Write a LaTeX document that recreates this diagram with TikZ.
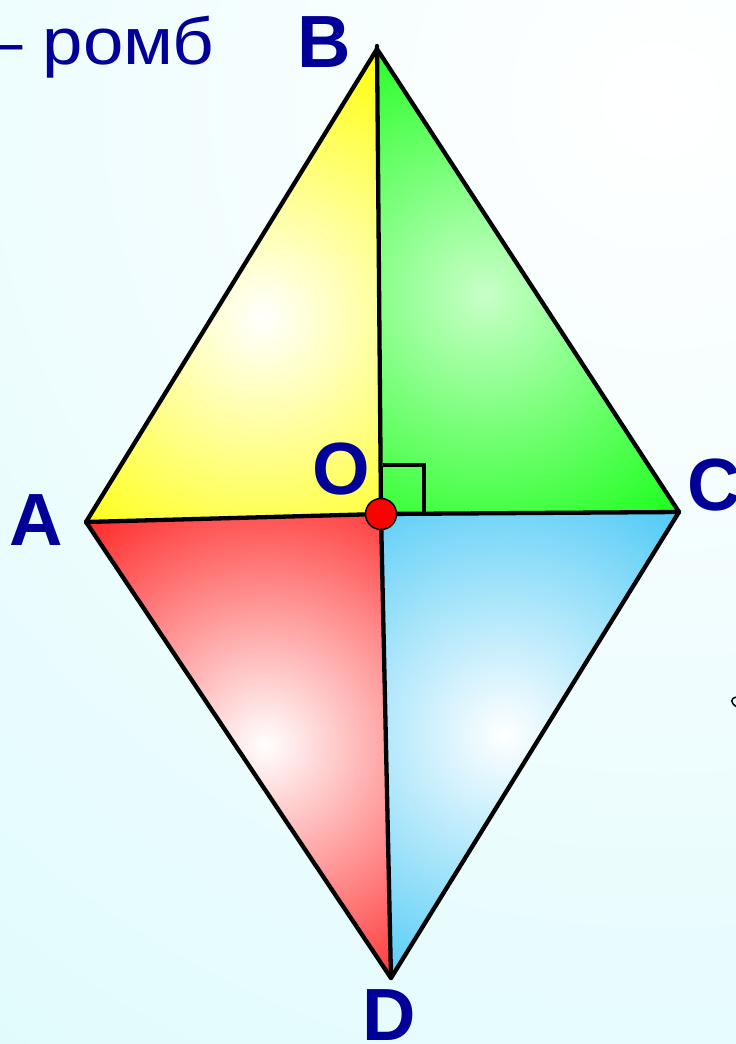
\documentclass[tikz,border=0pt]{standalone}
\usepackage{fontspec}
\setmainfont{Liberation Sans}
\definecolor{textblue}{HTML}{000099}
\definecolor{ryellow}{HTML}{FFFF1A}
\definecolor{rgreen}{HTML}{22FF22}
\definecolor{rred}{HTML}{FF1F1F}
\definecolor{rblue}{HTML}{50CAF6}
\definecolor{bgcyan}{HTML}{D8FAFC}
\begin{document}
\begin{tikzpicture}[x=1pt,y=-1pt,
  lbl/.style={text=textblue,font=\bfseries\fontsize{74}{74}\selectfont,inner sep=0pt},
  edge/.style={draw=black,line width=4.3pt,line join=round,line cap=round}]
\useasboundingbox (0,0) rectangle (736,1044);
\shade[inner color=white,outer color=bgcyan] (660,100) circle (1500);
% vertices
\coordinate (A) at (86,522);
\coordinate (B) at (377,49);
\coordinate (C) at (679,512);
\coordinate (D) at (391,978);
\coordinate (O) at (381,514);
% yellow
\begin{scope}
\clip (A) -- (B) -- (O) -- cycle;
\fill[ryellow] (A) -- (B) -- (O) -- cycle;
\shade[inner color=white,outer color=ryellow] (262,318) circle (270);
\end{scope}
% green
\begin{scope}
\clip (B) -- (C) -- (O) -- cycle;
\fill[rgreen] (B) -- (C) -- (O) -- cycle;
\shade[inner color=white!75!rgreen,outer color=rgreen] (485,295) circle (280);
\end{scope}
% red
\begin{scope}
\clip (A) -- (O) -- (D) -- cycle;
\fill[rred] (A) -- (O) -- (D) -- cycle;
\shade[inner color=white,outer color=rred] (265,745) circle (300);
\end{scope}
% blue
\begin{scope}
\clip (O) -- (C) -- (D) -- cycle;
\fill[rblue] (O) -- (C) -- (D) -- cycle;
\shade[inner color=white,outer color=rblue] (505,735) circle (280);
\end{scope}
% right angle mark
\coordinate (R1) at (383,465);
\coordinate (R2) at (424,465);
\coordinate (R3) at (424,514);
\draw[line width=4pt] (R1) -- (R2) -- (R3);
% outline and diagonals
\draw[edge] (A) -- (B) -- (C) -- (D) -- cycle;
\draw[edge] (A) -- (O) -- (C);
\draw[edge] (B) -- ++(0,-3) -- (O) -- (D);
\node[draw=black,line width=1.5pt,fill=red,circle,minimum size=31pt,inner sep=0pt] (Odot) at (O) {};
% labels
\node[lbl] (lA) at (36,520) {A};
\node[lbl] (lB) at (324,42) {B};
\node[lbl] (lC) at (714,485) {C};
\node[lbl] (lD) at (389,1015) {D};
\node[lbl] (lO) at (341,469) {O};
\node[text=textblue,font=\fontsize{66}{66}\selectfont,inner sep=0pt,anchor=base west] (title) at (-18,64) {\scalebox{1.1}[1]{– ромб}};
% small stray mark
\coordinate (M1) at (737,697);
\coordinate (M2) at (737,707);
\draw[line width=1.5pt,line cap=round] (M1) .. controls (730,698) and (730,703) .. (M2);
\end{tikzpicture}
\end{document}
